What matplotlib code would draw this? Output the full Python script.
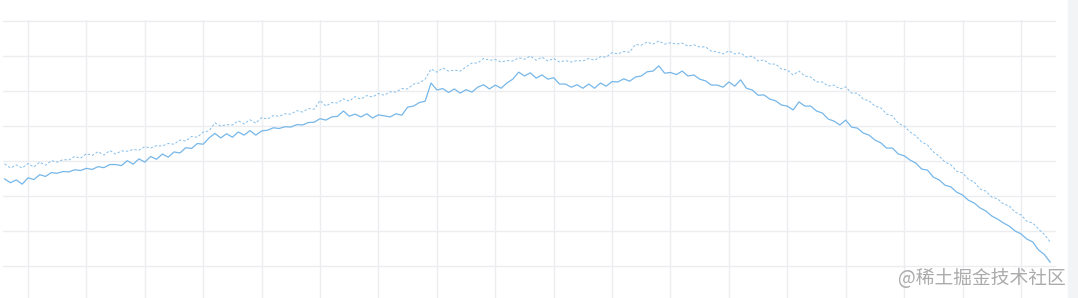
import numpy as np
import matplotlib.pyplot as plt

plt.rcParams["font.family"] = ["Noto Sans CJK SC", "DejaVu Sans"]

# データ (値は画像から読み取った推定値)
series_solid = [
    24.9, 23.8, 24.6, 23.4, 25.2, 24.7, 26.1, 25.6, 26.7, 26.5,
    27.0, 26.9, 27.5, 27.3, 27.9, 27.6, 28.4, 28.1, 29.0, 29.0,
    28.7, 30.1, 29.1, 30.6, 29.7, 31.3, 30.5, 32.0, 31.1, 32.6,
    32.3, 33.8, 33.6, 35.0, 34.8, 36.6, 37.9, 36.6, 37.8, 36.8,
    38.3, 37.4, 38.7, 37.4, 38.6, 38.8, 39.5, 39.3, 39.8, 39.7,
    40.4, 40.3, 41.0, 41.1, 42.1, 41.7, 42.6, 42.8, 44.3, 42.8,
    43.4, 42.6, 43.5, 42.3, 43.2, 42.9, 42.6, 43.5, 43.1, 45.4,
    45.7, 46.7, 47.1, 52.3, 50.3, 50.7, 49.6, 50.6, 49.4, 50.4,
    49.7, 51.1, 51.8, 50.6, 51.7, 50.8, 52.3, 53.4, 55.4, 54.3,
    55.2, 53.7, 54.6, 53.4, 53.8, 52.0, 52.0, 51.1, 51.8, 50.8,
    52.0, 50.8, 52.3, 51.4, 52.7, 52.6, 53.5, 52.8, 54.0, 54.3,
    55.5, 55.7, 57.2, 55.1, 55.3, 54.7, 55.7, 54.3, 54.6, 53.4,
    52.9, 51.7, 51.7, 51.1, 52.6, 51.4, 53.2, 50.8, 50.3, 48.8,
    48.9, 47.7, 47.2, 46.0, 45.7, 44.6, 46.9, 45.7, 45.7, 44.3,
    43.7, 42.0, 41.4, 40.3, 41.7, 39.7, 39.4, 38.0, 37.4, 36.0,
    35.2, 33.7, 33.7, 32.0, 31.5, 30.3, 29.4, 27.7, 27.4, 25.4,
    24.6, 23.1, 22.6, 21.1, 20.3, 18.8, 18.0, 16.6, 15.7, 14.3,
    13.4, 12.3, 11.4, 10.0, 9.2, 7.7, 6.9, 4.6, 3.3, 1.1,
]
series_dashed = [
    29.2, 28.0, 28.9, 28.0, 29.3, 28.3, 29.7, 28.8, 30.1, 29.7,
    30.4, 30.3, 31.3, 30.8, 32.1, 31.6, 32.7, 31.7, 33.0, 32.0,
    32.9, 32.8, 33.3, 33.1, 34.1, 33.7, 34.4, 34.3, 35.0, 34.8,
    36.0, 35.7, 37.0, 36.8, 38.3, 38.6, 40.9, 40.0, 40.4, 40.3,
    41.5, 40.6, 41.8, 40.8, 42.4, 42.0, 43.0, 42.8, 43.5, 43.4,
    44.4, 44.0, 45.0, 44.8, 47.3, 45.7, 46.7, 46.6, 47.8, 47.1,
    48.4, 47.7, 48.7, 48.3, 49.3, 48.8, 49.8, 49.7, 50.7, 50.6,
    52.0, 52.3, 53.4, 56.3, 55.4, 56.6, 55.7, 56.0, 55.7, 56.9,
    58.0, 58.0, 59.3, 58.8, 59.0, 58.3, 58.7, 58.6, 59.5, 59.1,
    60.0, 58.8, 59.7, 58.6, 59.3, 58.3, 58.7, 58.3, 58.7, 58.6,
    59.3, 58.8, 59.8, 59.7, 61.0, 60.6, 61.3, 61.1, 63.3, 63.1,
    64.0, 63.4, 64.3, 63.4, 63.8, 63.4, 63.7, 62.8, 63.2, 62.6,
    62.6, 61.4, 61.2, 60.6, 61.5, 60.6, 60.9, 59.7, 60.0, 58.6,
    58.9, 57.7, 57.7, 56.3, 56.0, 54.6, 55.7, 54.3, 54.0, 52.6,
    52.6, 51.4, 51.7, 50.6, 51.2, 49.4, 49.4, 47.7, 47.2, 45.7,
    45.2, 43.4, 42.9, 40.8, 40.0, 38.3, 37.2, 35.4, 34.6, 32.6,
    31.4, 29.7, 28.9, 27.1, 26.6, 24.8, 24.0, 22.0, 21.4, 19.7,
    19.2, 17.7, 17.2, 15.4, 14.6, 12.8, 12.3, 10.6, 9.0, 6.9,
]
y_ticks = list(range(0, 71, 10))
x_ticks = list(range(4, 180, 10))

x = np.arange(len(series_solid))
line_color = "#76b7e9"

fig = plt.figure(figsize=(10.78, 2.98), dpi=100)
fig.patch.set_facecolor("white")
ax = fig.add_axes([3 / 1078, 0, 1053 / 1078, 278 / 298])
ax.set_facecolor("white")

ax.plot(x, series_dashed, color=line_color, linewidth=0.7,
        linestyle=(0, (2.5, 2)), alpha=0.9)
ax.plot(x, series_solid, color=line_color, linewidth=0.9)

ax.set_xlim(-0.28, 180.0)
ax.set_ylim(-9.14, 70.3)
ax.set_xticks(x_ticks)
ax.set_yticks(y_ticks)
ax.grid(True, color="#ebedf0", linewidth=1.0)
ax.set_axisbelow(True)
ax.tick_params(length=0, labelbottom=False, labelleft=False)
for s in ax.spines.values():
    s.set_visible(False)

# 右端の薄いグレー帯
fig.patches.append(plt.Rectangle((1068 / 1078, 0), 10 / 1078, 1,
                                 transform=fig.transFigure,
                                 color="#f3f4f6", zorder=0))

# 透かし
fig.text(1066 / 1078, 20 / 298, "@稀土掘金技术社区", ha="right", va="center",
         fontsize=13.5, color="#ababab",
         family=["Noto Sans CJK SC", "DejaVu Sans"])

fig.savefig("out.png", dpi=100, facecolor="white")
